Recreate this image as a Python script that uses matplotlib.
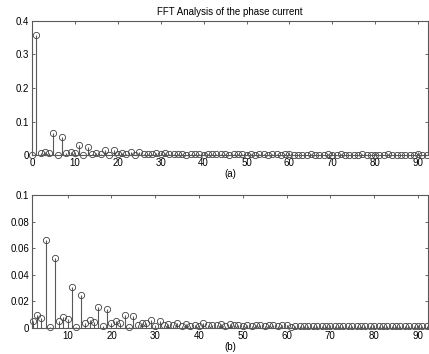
import matplotlib
matplotlib.use("Agg")
import matplotlib.pyplot as plt
import numpy as np

plt.rcParams['font.family'] = ['Liberation Sans', 'DejaVu Sans']

harmonic = list(range(0, 94))
amplitude = [
    0.001, 0.358, 0.005, 0.010, 0.0073, 0.066, 0.001, 0.053, 0.005, 0.008,
    0.0065, 0.031, 0.001, 0.025, 0.0035, 0.006, 0.0045, 0.016, 0.0015, 0.014,
    0.0035, 0.0055, 0.004, 0.0095, 0.001, 0.0088, 0.0025, 0.004, 0.0038, 0.0058,
    0.0018, 0.0055, 0.0025, 0.003, 0.0025, 0.0035, 0.0012, 0.003, 0.0018, 0.0025,
    0.0012, 0.004, 0.0025, 0.0025, 0.002, 0.003, 0.0015, 0.003, 0.002, 0.0025,
    0.0015, 0.002, 0.0015, 0.002, 0.002, 0.0015, 0.002, 0.0025, 0.0015, 0.002,
    0.0025, 0.001, 0.0015, 0.0015, 0.0012, 0.0018, 0.0012, 0.0015, 0.0012, 0.0018,
    0.0015, 0.0012, 0.0018, 0.0012, 0.0015, 0.0012, 0.0015, 0.0018, 0.0012, 0.0015,
    0.0012, 0.0015, 0.0012, 0.0018, 0.0012, 0.0015, 0.0012, 0.0015, 0.0012, 0.0015,
    0.0018, 0.0012, 0.0015, 0.0012,
]

top_yticks = [0, 0.1, 0.2, 0.3, 0.4]
top_yticklabels = ['0', '0.1', '0.2', '0.3', '0.4']
bot_yticks = [0, 0.02, 0.04, 0.06, 0.08, 0.1]
bot_yticklabels = ['0', '0.02', '0.04', '0.06', '0.08', '0.1']
top_xticks = list(range(0, 100, 10))
bot_xticks = list(range(10, 100, 10))

fig = plt.figure(figsize=(4.29, 3.54), dpi=100)
ax1 = fig.add_axes([0.0746, 0.562, 0.923, 0.3788])
ax2 = fig.add_axes([0.0746, 0.0734, 0.923, 0.3757])

fs = 7
line_c = '0.35'
mark_c = '0.25'


def draw(ax, xs, ys, xmin, xmax):
    xs = np.asarray(xs)
    ys = np.asarray(ys)
    keep = (xs >= xmin - 0.3) & (xs <= xmax + 0.3)
    ax.vlines(xs, 0, ys, colors=line_c, linewidth=0.8)
    ax.plot(xs[keep], ys[keep], linestyle='none', marker='o', markersize=4.5,
            markerfacecolor='none', markeredgecolor=mark_c, markeredgewidth=0.6,
            clip_on=False)
    ax.set_xlim(xmin, xmax)
    for s in ax.spines.values():
        s.set_color('0.35')
        s.set_linewidth(0.8)
    ax.tick_params(direction='in', length=2.5, width=0.6, color='0.3',
                   labelsize=fs, top=True, right=True, pad=2)


draw(ax1, harmonic, amplitude, 0, 92.3)
ax1.set_ylim(0, 0.4)
ax1.set_xticks(top_xticks)
ax1.set_yticks(top_yticks)
ax1.set_yticklabels(top_yticklabels)
ax1.set_title('FFT Analysis of the phase current', fontsize=fs, pad=4)
ax1.set_xlabel('(a)', fontsize=fs, labelpad=1)

draw(ax2, harmonic[2:], amplitude[2:], 1.85, 92.3)
ax2.set_ylim(0, 0.1)
ax2.set_xticks(bot_xticks)
ax2.set_yticks(bot_yticks)
ax2.set_yticklabels(bot_yticklabels)
ax2.set_xlabel('(b)', fontsize=fs, labelpad=1)

fig.savefig('out.png', dpi=100)
